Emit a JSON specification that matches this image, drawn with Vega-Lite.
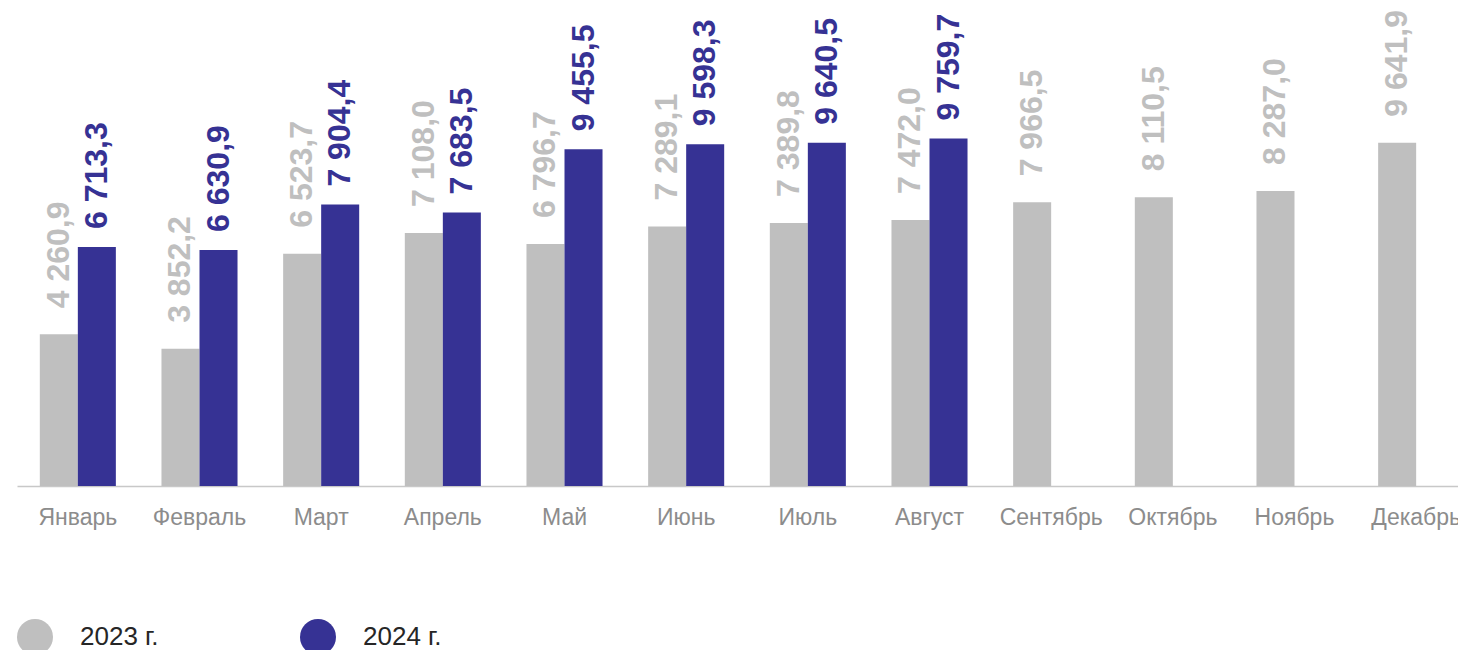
{
  "$schema": "https://vega.github.io/schema/vega-lite/v6.json",
  "width": 1441,
  "height": 486,
  "autosize": {"type": "none"},
  "padding": {"left": 17, "top": 0, "right": 0, "bottom": 164},
  "config": {
    "view": {"stroke": null},
    "font": "Liberation Sans",
    "locale": {"number": {"decimal": ",", "thousands": " ", "grouping": [3], "currency": ["", ""]}}
  },
  "data": {
    "values": [
      {"month": "Январь", "year": "2023 г.", "value": 4260.9},
      {"month": "Январь", "year": "2024 г.", "value": 6713.3},
      {"month": "Февраль", "year": "2023 г.", "value": 3852.2},
      {"month": "Февраль", "year": "2024 г.", "value": 6630.9},
      {"month": "Март", "year": "2023 г.", "value": 6523.7},
      {"month": "Март", "year": "2024 г.", "value": 7904.4},
      {"month": "Апрель", "year": "2023 г.", "value": 7108.0},
      {"month": "Апрель", "year": "2024 г.", "value": 7683.5},
      {"month": "Май", "year": "2023 г.", "value": 6796.7},
      {"month": "Май", "year": "2024 г.", "value": 9455.5},
      {"month": "Июнь", "year": "2023 г.", "value": 7289.1},
      {"month": "Июнь", "year": "2024 г.", "value": 9598.3},
      {"month": "Июль", "year": "2023 г.", "value": 7389.8},
      {"month": "Июль", "year": "2024 г.", "value": 9640.5},
      {"month": "Август", "year": "2023 г.", "value": 7472.0},
      {"month": "Август", "year": "2024 г.", "value": 9759.7},
      {"month": "Сентябрь", "year": "2023 г.", "value": 7966.5},
      {"month": "Октябрь", "year": "2023 г.", "value": 8110.5},
      {"month": "Ноябрь", "year": "2023 г.", "value": 8287.0},
      {"month": "Декабрь", "year": "2023 г.", "value": 9641.9}
    ]
  },
  "encoding": {
    "x": {
      "field": "month",
      "type": "nominal",
      "sort": ["Январь", "Февраль", "Март", "Апрель", "Май", "Июнь", "Июль", "Август", "Сентябрь", "Октябрь", "Ноябрь", "Декабрь"],
      "scale": {"range": [0, 1460], "paddingInner": 0.375, "paddingOuter": 0.1875},
      "axis": {
        "title": null,
        "labelAngle": 0,
        "ticks": false,
        "domainColor": "#c8c8c8",
        "domainWidth": 1.5,
        "labelColor": "#8c8c8c",
        "labelFontSize": 23,
        "labelPadding": 20,
        "labelOverlap": false,
        "labelLimit": 0
      }
    },
    "xOffset": {
      "field": "year",
      "type": "nominal",
      "scale": {"paddingInner": 0, "paddingOuter": 0}
    },
    "y": {
      "field": "value",
      "type": "quantitative",
      "scale": {"domain": [0, 13650]},
      "axis": null
    }
  },
  "layer": [
    {
      "mark": {"type": "bar"},
      "encoding": {
        "color": {
          "field": "year",
          "type": "nominal",
          "scale": {"domain": ["2023 г.", "2024 г."], "range": ["#bfbfbf", "#363294"]},
          "legend": {
            "title": null,
            "orient": "none",
            "legendX": 0,
            "legendY": 619,
            "direction": "horizontal",
            "padding": 0,
            "symbolType": "circle",
            "symbolSize": 1296,
            "symbolStrokeWidth": 0,
            "symbolOpacity": 1,
            "labelFontSize": 26,
            "labelColor": "#262626",
            "labelOffset": 27,
            "columnPadding": 141
          }
        }
      }
    },
    {
      "transform": [{"filter": "datum.year == '2023 г.'"}],
      "mark": {"type": "text", "angle": 270, "align": "left", "baseline": "middle", "dx": 26, "fontSize": 32, "fontWeight": "bold", "color": "#bfbfbf"},
      "encoding": {"text": {"field": "value", "type": "quantitative", "format": ",.1f"}}
    },
    {
      "transform": [{"filter": "datum.year == '2024 г.'"}],
      "mark": {"type": "text", "angle": 270, "align": "left", "baseline": "middle", "dx": 18, "fontSize": 32, "fontWeight": "bold", "color": "#363294"},
      "encoding": {"text": {"field": "value", "type": "quantitative", "format": ",.1f"}}
    }
  ]
}
